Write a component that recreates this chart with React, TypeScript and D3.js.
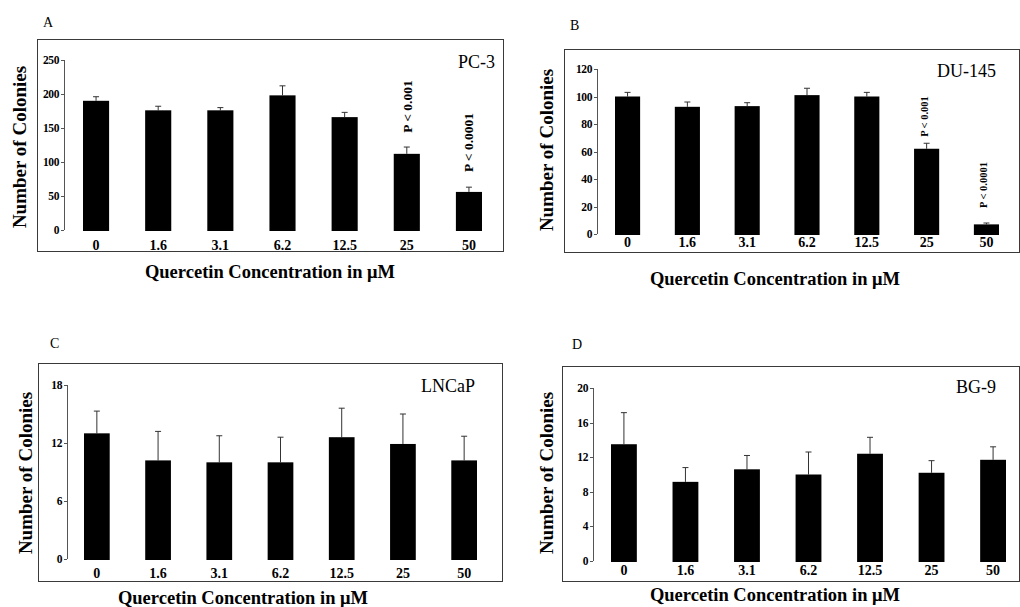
import React from 'react';
import { scaleBand, scaleLinear } from 'd3';

const CONCENTRATIONS = ['0', '1.6', '3.1', '6.2', '12.5', '25', '50'];

const PC3_MEAN = [190, 176, 176, 198, 166, 112, 56];
const PC3_SE = [6, 6, 4, 14, 7, 10, 7];
const PC3_TICKS = [0, 50, 100, 150, 200, 250];

const DU145_MEAN = [100, 92.5, 93, 101, 100, 62, 7];
const DU145_SE = [3, 3.5, 2.5, 5, 3, 4, 1];
const DU145_TICKS = [0, 20, 40, 60, 80, 100, 120];

const LNCAP_MEAN = [13, 10.2, 10, 10, 12.6, 11.9, 10.2];
const LNCAP_SE = [2.3, 3, 2.75, 2.6, 3, 3.1, 2.5];
const LNCAP_TICKS = [0, 6, 12, 18];

const BG9_MEAN = [13.5, 9.15, 10.6, 10, 12.4, 10.2, 11.7];
const BG9_SE = [3.65, 1.65, 1.6, 2.6, 1.9, 1.4, 1.5];
const BG9_TICKS = [0, 4, 8, 12, 16, 20];

const X_TITLE = 'Quercetin Concentration in \u03bcM';
const Y_TITLE = 'Number of Colonies';
const FONT = '"Liberation Serif", "Times New Roman", serif';

// layout per panel (pixels)
const PANELS = [
  {
    letter: 'A', letterPos: [43, 27], name: 'PC-3', namePos: [495, 68],
    box: [37, 39, 503, 251], axisX: 64, yPx: [230, 60], yMax: 250, ticks: PC3_TICKS,
    barsX: [83, 482], tickBase: 250, xTitle: [270, 278], yTitle: [26, 147],
    mean: PC3_MEAN, se: PC3_SE, pFont: 13.5,
    pLabels: [{ i: 5, text: 'P < 0.001', x: 412, y: 106.5 }, { i: 6, text: 'P < 0.0001', x: 473, y: 142.5 }],
  },
  {
    letter: 'B', letterPos: [570, 30], name: 'DU-145', namePos: [996, 77],
    box: [564, 49, 1019, 252], axisX: 597, yPx: [234, 69], yMax: 120, ticks: DU145_TICKS,
    barsX: [615, 999], tickBase: 247, xTitle: [775, 285], yTitle: [553, 150],
    mean: DU145_MEAN, se: DU145_SE, pFont: 10.5,
    pLabels: [{ i: 5, text: 'P < 0.001', x: 928, y: 116.5 }, { i: 6, text: 'P < 0.0001', x: 987, y: 185 }],
  },
  {
    letter: 'C', letterPos: [50, 348], name: 'LNCaP', namePos: [475, 392],
    box: [38, 363, 502, 581], axisX: 67, yPx: [559, 385], yMax: 18, ticks: LNCAP_TICKS,
    barsX: [84, 477], tickBase: 578, xTitle: [243, 604], yTitle: [32, 473],
    mean: LNCAP_MEAN, se: LNCAP_SE, pFont: 12, pLabels: [],
  },
  {
    letter: 'D', letterPos: [572, 349], name: 'BG-9', namePos: [996, 393],
    box: [562, 366, 1019, 581], axisX: 593, yPx: [561, 388], yMax: 20, ticks: BG9_TICKS,
    barsX: [611, 1006], tickBase: 575, xTitle: [775, 601], yTitle: [553, 473],
    mean: BG9_MEAN, se: BG9_SE, pFont: 12, pLabels: [],
  },
];

function Panel({ p }) {
  const y = scaleLinear().domain([0, p.yMax]).range(p.yPx);
  const x = scaleBand().domain(CONCENTRATIONS).range(p.barsX).paddingInner(0.58).paddingOuter(0);
  const bw = x.bandwidth();
  const [bx0, by0, bx1, by1] = p.box;
  return (
    <g>
      <text x={p.letterPos[0]} y={p.letterPos[1]} fontSize={14}>{p.letter}</text>
      <rect x={bx0 + 0.5} y={by0 + 0.5} width={bx1 - bx0} height={by1 - by0} fill="none" stroke="#3a3a3a" strokeWidth={1} />
      <text x={p.namePos[0]} y={p.namePos[1]} fontSize={18} textAnchor="end">{p.name}</text>

      {/* y axis */}
      <line x1={p.axisX + 0.5} x2={p.axisX + 0.5} y1={y(p.yMax)} y2={y(0)} stroke="#555" />
      {p.ticks.map((t) => (
        <g key={t}>
          <line x1={p.axisX - 3} x2={p.axisX} y1={Math.round(y(t)) + 0.5} y2={Math.round(y(t)) + 0.5} stroke="#555" />
          <text x={p.axisX - 5} y={y(t) + 4} fontSize={11.5} fontWeight="bold" textAnchor="end" letterSpacing={-0.4}>{t}</text>
        </g>
      ))}

      {/* bars + error bars */}
      {CONCENTRATIONS.map((c, i) => {
        const cx = x(c) + bw / 2;
        const top = y(p.mean[i]);
        const errTop = y(p.mean[i] + p.se[i]);
        return (
          <g key={c}>
            <line x1={cx} x2={cx} y1={top} y2={errTop} stroke="#333" strokeWidth={1} />
            <line x1={cx - 3} x2={cx + 3} y1={errTop} y2={errTop} stroke="#333" strokeWidth={1} />
            <rect x={x(c)} y={top} width={bw} height={y(0) + 1 - top} fill="#000" />
            <text x={cx} y={p.tickBase} fontSize={14} fontWeight="bold" textAnchor="middle">{c}</text>
          </g>
        );
      })}

      {p.pLabels.map((l) => (
        <text key={l.i} transform={`translate(${l.x},${l.y}) rotate(-90)`} fontSize={p.pFont} fontWeight="bold" textAnchor="middle">{l.text}</text>
      ))}

      <text x={p.xTitle[0]} y={p.xTitle[1]} fontSize={18.5} fontWeight="bold" textAnchor="middle">{X_TITLE}</text>
      <text transform={`translate(${p.yTitle[0]},${p.yTitle[1]}) rotate(-90)`} fontSize={19} fontWeight="bold" textAnchor="middle">{Y_TITLE}</text>
    </g>
  );
}

export default function App() {
  return (
    <svg
      width={1020}
      height={607}
      viewBox="0 0 1020 607"
      style={{ position: 'absolute', left: 0, top: 0, background: '#fff' }}
      fontFamily={FONT}
    >
      <rect width={1020} height={607} fill="#fff" />
      {PANELS.map((p) => <Panel key={p.letter} p={p} />)}
    </svg>
  );
}
